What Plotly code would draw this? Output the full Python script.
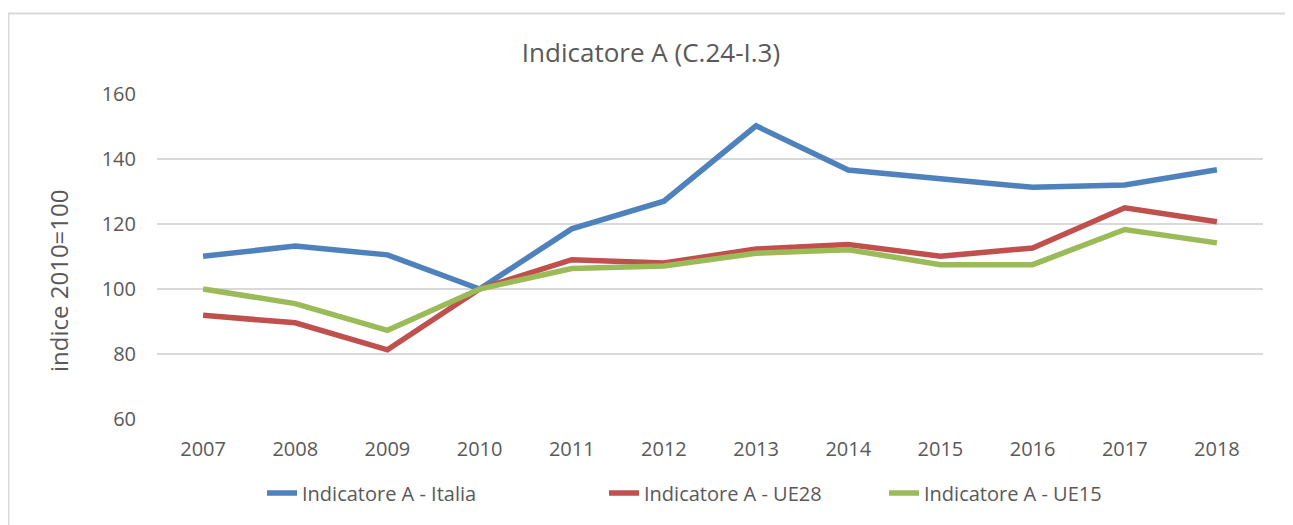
import plotly.graph_objects as go

years = ["2007", "2008", "2009", "2010", "2011", "2012", "2013", "2014", "2015", "2016", "2017", "2018"]
italia = [110.1, 113.2, 110.5, 100.0, 118.5, 127.0, 150.2, 136.6, 133.9, 131.3, 132.0, 136.7]
ue28 = [91.9, 89.6, 81.3, 100.0, 109.0, 108.0, 112.3, 113.7, 110.1, 112.6, 125.0, 120.7]
ue15 = [100.0, 95.5, 87.3, 100.0, 106.3, 107.1, 111.0, 112.1, 107.5, 107.5, 118.3, 114.2]

names = ["Indicatore A - Italia", "Indicatore A - UE28", "Indicatore A - UE15"]
colors = ["#4F81BD", "#C0504D", "#9BBB59"]
series = [italia, ue28, ue15]
legend_ids = ["legend", "legend2", "legend3"]

FONT = "Open Sans, sans-serif"
GREY = "#595959"

# page has an 8px body margin: figure is drawn 8px right/down
OFF = 8
W, H = 1293 - OFF, 525 - OFF
L, T = 157 - OFF, 94 - OFF
R, B = W - (1263 - OFF), H - (419 - OFF)
PW, PH = W - L - R, H - T - B

def px_x(page_x):
    return (page_x - OFF - L) / PW

def px_y(page_y):
    return ((419 - OFF) - (page_y - OFF)) / PH

fig = go.Figure()
for name, vals, col, lg in zip(names, series, colors, legend_ids):
    fig.add_trace(go.Scatter(x=years, y=vals, name=name, mode="lines",
                             line=dict(color=col, width=5.5), legend=lg,
                             showlegend=True))

text_left_page = [303, 645, 925]
leg_common = dict(orientation="h", yanchor="middle", y=px_y(493),
                  xanchor="left", font=dict(size=20, color=GREY),
                  bgcolor="rgba(0,0,0,0)", visible=True)

fig.update_layout(
    width=W, height=H,
    showlegend=True,
    margin=dict(l=L, r=R, t=T, b=B, autoexpand=False),
    paper_bgcolor="white", plot_bgcolor="white",
    font=dict(family=FONT, color=GREY, size=20),
    title=dict(text="Indicatore A (C.24-I.3)", x=(651 - OFF) / W, xanchor="center",
               xref="container", y=1 - (53 - OFF) / H, yanchor="middle",
               font=dict(family=FONT, size=26, color=GREY)),
    xaxis=dict(type="category", range=[-0.5, 11.5], showgrid=False,
               showline=False, ticks="", ticklabelstandoff=16,
               tickfont=dict(size=20, color=GREY)),
    yaxis=dict(range=[60, 160], dtick=20, showgrid=True, gridcolor="#D9D9D9",
               gridwidth=1.5, zeroline=False, showline=False, ticks="",
               ticklabelstandoff=20,
               tickfont=dict(size=20, color=GREY)),
    legend=dict(x=px_x(text_left_page[0] - 41), **leg_common),
    legend2=dict(x=px_x(text_left_page[1] - 41), **leg_common),
    legend3=dict(x=px_x(text_left_page[2] - 41), **leg_common),
    annotations=[dict(text="indice 2010=100", textangle=-90, showarrow=False,
                      xref="paper", yref="paper", x=px_x(58), y=px_y(281),
                      xanchor="center", yanchor="middle",
                      font=dict(size=24, color=GREY, family=FONT))],
    shapes=[dict(type="rect", xref="paper", yref="paper",
                 x0=px_x(8.5), x1=px_x(1305),
                 y0=px_y(540), y1=px_y(13.5),
                 line=dict(color="#D9D9D9", width=2), layer="below")],
)

fig.write_html("out.html")
